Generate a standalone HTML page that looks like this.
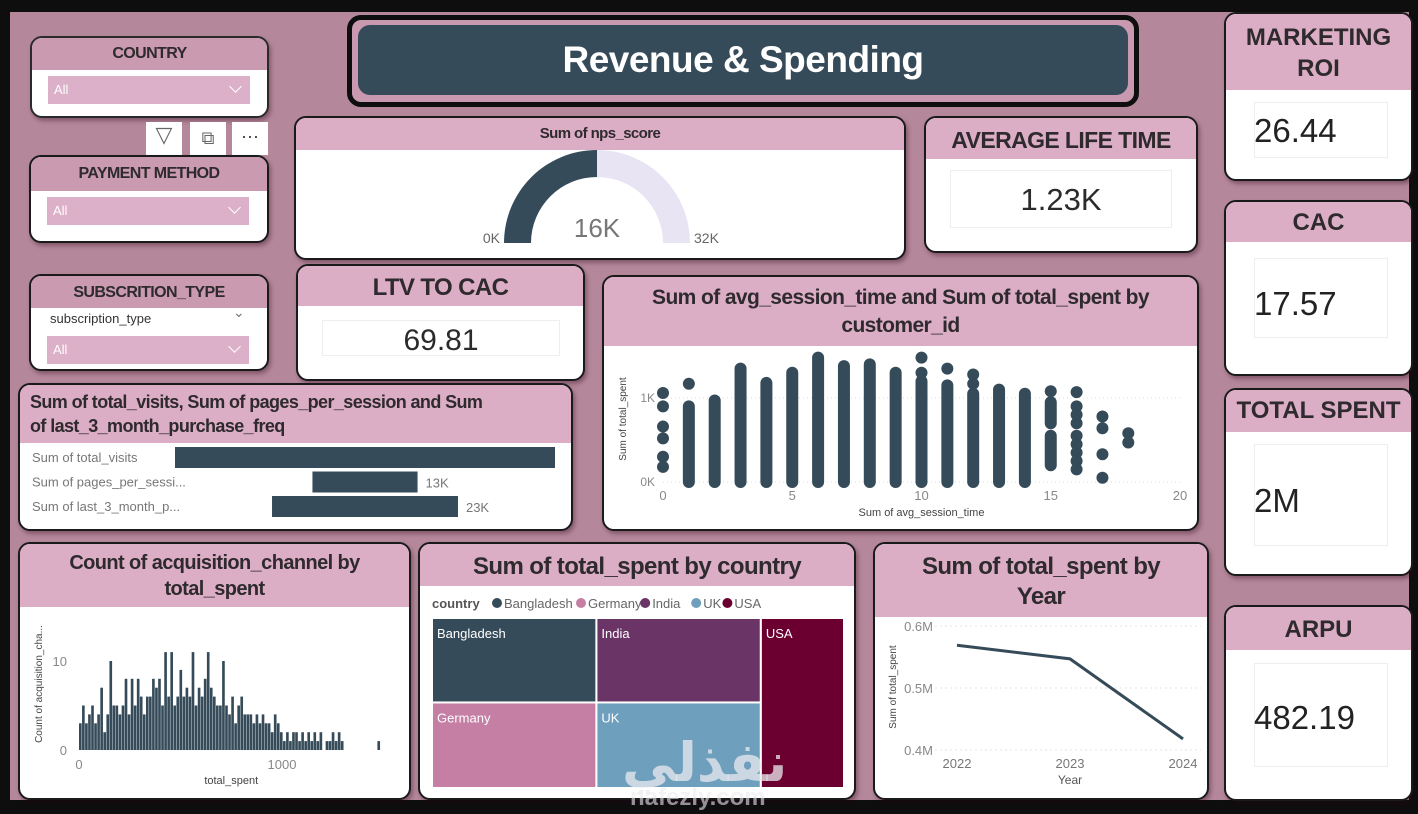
<!DOCTYPE html>
<html><head><meta charset="utf-8">
<style>
*{box-sizing:border-box;margin:0;padding:0}
body{width:1418px;height:814px;background:#0e0e0e;position:relative;overflow:hidden;font-family:"Liberation Sans",sans-serif;color:#2b2b2b}
.canvas{position:absolute;left:10px;top:12px;width:1399px;height:788px;background:#b5879b}
.card{position:absolute;background:#fff;border:2.5px solid #1a1a1a;border-radius:12px;overflow:hidden;box-shadow:2px 3px 4px rgba(40,0,20,.35)}
.hdr{position:absolute;left:0;right:0;top:0;background:#dcaec6;text-align:center;font-weight:bold;color:#2e2a2d;white-space:nowrap;letter-spacing:-0.6px}
.abs{position:absolute}
.dd{position:absolute;background:#dcb0c8;color:#fff;font-size:13px;padding:6px 0 0 6px}
.dd::after{content:"";position:absolute;right:10px;top:6px;width:8px;height:8px;border-right:1.5px solid #fff;border-bottom:1.5px solid #fff;transform:rotate(45deg)}
.kbox{position:absolute;border:1px solid #eee;background:#fff}
.rk .hdr{letter-spacing:0}
.rk .val{position:absolute;font-size:33px;color:#222}
svg text{font-family:"Liberation Sans",sans-serif}
</style></head><body>
<div class="canvas"></div>

<div class="card" style="left:30px;top:36px;width:239px;height:82px;border-color:#2a2a2a">
 <div class="hdr" style="height:32px;line-height:32px;font-size:16px;background:#c99ab0">COUNTRY</div>
 <div class="dd" style="left:16px;top:38px;width:202px;height:28px">All</div>
</div>
<div class="abs" style="left:146px;top:122px;width:36px;height:33px;background:#fff;font-size:22px;text-align:center;color:#666">▽</div>
<div class="abs" style="left:190px;top:122px;width:36px;height:33px;background:#fff;font-size:18px;text-align:center;line-height:33px;color:#666">⧉</div>
<div class="abs" style="left:232px;top:122px;width:36px;height:33px;background:#fff;font-size:18px;text-align:center;line-height:28px;color:#333">···</div>

<div class="card" style="left:29px;top:155px;width:240px;height:88px">
 <div class="hdr" style="height:34px;line-height:34px;font-size:16px;background:#c99ab0">PAYMENT METHOD</div>
 <div class="dd" style="left:16px;top:40px;width:202px;height:28px">All</div>
</div>
<div class="card" style="left:29px;top:274px;width:240px;height:97px">
 <div class="hdr" style="height:32px;line-height:34px;font-size:16px;background:#c99ab0">SUBSCRITION_TYPE</div>
 <div class="abs" style="left:19px;top:35px;font-size:13px;color:#333">subscription_type</div>
 <div class="abs" style="left:202px;top:28px;font-size:14px;color:#777">⌄</div>
 <div class="dd" style="left:16px;top:60px;width:202px;height:28px">All</div>
</div>

<div class="abs" style="left:347px;top:15px;width:792px;height:92px;border:5px solid #0e0e0e;border-radius:14px;background:#c999b0">
 <div class="abs" style="left:6px;top:5px;width:770px;height:70px;background:#364b59;border-radius:12px;color:#fff;font-weight:bold;font-size:37px;letter-spacing:-0.5px;text-align:center;line-height:70px">Revenue &amp; Spending</div>
</div>

<div class="card" style="left:294px;top:116px;width:612px;height:144px">
 <div class="hdr" style="height:32px;line-height:32px;font-size:15px">Sum of nps_score</div>
 <svg class="abs" style="left:0;top:0" width="612" height="144" id="gauge"></svg>
</div>

<div class="card" style="left:924px;top:116px;width:274px;height:137px">
 <div class="hdr" style="height:41px;line-height:44px;font-size:23px">AVERAGE LIFE TIME</div>
 <div class="kbox" style="left:24px;top:52px;width:222px;height:58px;text-align:center;font-size:31px;line-height:58px">1.23K</div>
</div>

<div class="card" style="left:296px;top:264px;width:289px;height:117px">
 <div class="hdr" style="height:40px;line-height:44px;font-size:24px">LTV TO CAC</div>
 <div class="kbox" style="left:24px;top:54px;width:238px;height:36px;text-align:center;font-size:30px;line-height:40px">69.81</div>
</div>

<div class="card" style="left:602px;top:275px;width:597px;height:256px">
 <div class="hdr" style="height:69px;line-height:28px;padding-top:7px;font-size:21px">Sum of avg_session_time and Sum of total_spent by<br>customer_id</div>
 <svg class="abs" style="left:0;top:0" width="597" height="256" id="scatter"></svg>
</div>

<div class="card" style="left:18px;top:383px;width:555px;height:148px">
 <div class="hdr" style="height:58px;text-align:left;padding:5px 0 0 10px;font-size:18px;line-height:24px">Sum of total_visits, Sum of pages_per_session and Sum<br>of last_3_month_purchase_freq</div>
 <svg class="abs" style="left:0;top:0" width="555" height="148" id="funnel"></svg>
</div>

<div class="card" style="left:18px;top:542px;width:393px;height:258px">
 <div class="hdr" style="height:63px;line-height:26px;padding-top:6px;font-size:20px">Count of acquisition_channel by<br>total_spent</div>
 <svg class="abs" style="left:0;top:0" width="393" height="258" id="hist"></svg>
</div>

<div class="card" style="left:418px;top:542px;width:438px;height:258px">
 <div class="hdr" style="height:42px;line-height:46px;font-size:24px">Sum of total_spent by country</div>
 <svg class="abs" style="left:0;top:0" width="438" height="258" id="tree"></svg>
</div>

<div class="card" style="left:873px;top:542px;width:336px;height:258px">
 <div class="hdr" style="height:73px;line-height:30px;padding-top:8px;font-size:24px">Sum of total_spent by<br>Year</div>
 <svg class="abs" style="left:0;top:0" width="336" height="258" id="line"></svg>
</div>

<div class="card rk" style="left:1224px;top:12px;width:189px;height:169px">
 <div class="hdr" style="height:76px;line-height:31px;padding-top:8px;font-size:24px">MARKETING<br>ROI</div>
 <div class="kbox" style="left:28px;top:88px;width:134px;height:56px"></div>
 <div class="val" style="left:28px;top:98px">26.44</div>
</div>
<div class="card rk" style="left:1224px;top:200px;width:189px;height:176px">
 <div class="hdr" style="height:40px;line-height:42px;font-size:24px">CAC</div>
 <div class="kbox" style="left:28px;top:56px;width:134px;height:80px"></div>
 <div class="val" style="left:28px;top:83px">17.57</div>
</div>
<div class="card rk" style="left:1224px;top:388px;width:189px;height:188px">
 <div class="hdr" style="height:42px;line-height:42px;font-size:24px">TOTAL SPENT</div>
 <div class="kbox" style="left:28px;top:54px;width:134px;height:102px"></div>
 <div class="val" style="left:28px;top:92px">2M</div>
</div>
<div class="card rk" style="left:1224px;top:605px;width:189px;height:196px">
 <div class="hdr" style="height:43px;line-height:46px;font-size:24px">ARPU</div>
 <div class="kbox" style="left:28px;top:56px;width:134px;height:104px"></div>
 <div class="val" style="left:28px;top:92px">482.19</div>
</div>

<div class="abs" style="left:622px;top:718px;font-family:'Noto Sans CJK SC','DejaVu Sans',sans-serif;font-size:54px;font-weight:bold;color:rgba(235,235,240,.75)">نفذلي</div>
<div class="abs" style="left:630px;top:784px;font-size:24px;font-weight:bold;color:rgba(235,235,240,.6)">nafezly.com</div>

<script>
const gaugeMin = 0;
const gaugeMax = 32;
const gaugeValue = 16;
const gaugeLabels = ["0K", "16K", "32K"];

const scatterColX = [1,2,3,4,5,6,7,8,9,10,11,12,13,14,15,15];
const scatterColMin = [0,0,0,0,0,0,0,0,0,0,0,0,0,0,0.2,0.7];
const scatterColMax = [0.9,0.97,1.35,1.18,1.3,1.48,1.38,1.4,1.3,1.2,1.15,1.05,1.1,1.05,0.55,0.95];
const scatterDotX = [0,0,0,0,0,0,1,10,10,11,12,12,15,16,16,16,16,16,16,16,16,16,17,17,17,17,18,18];
const scatterDotY = [1.06,0.9,0.66,0.52,0.3,0.18,1.17,1.3,1.48,1.35,1.17,1.28,1.08,1.07,0.9,0.8,0.7,0.55,0.45,0.35,0.25,0.15,0.78,0.64,0.33,0.05,0.58,0.47];
const scatterXTicks = [0,5,10,15,20];
const scatterYTicks = [0,1];

const funnelCats = ["Sum of total_visits","Sum of pages_per_sessi...","Sum of last_3_month_p..."];
const funnelVals = [47,13,23];
const funnelLabels = ["","13K","23K"];

const histBinWidth = 15;
const histCounts = [3,5,3,4,5,3, 4,7,2,4,10,5, 5,4,5,8,4,8, 5,8,6,4,6,6, 8,7,8,5,11,6, 11,5,6,9,6,7, 6,11,5,7,6,8, 11,7,6,5,5,10, 5,4,6,3,5,6, 4,4,4,3,4,3, 4,3,3,2,4,3, 2,1,2,1,2,2, 1,2,1,2,1,2, 1,2,0,1,1,2, 1,2,1,0,0,0, 0,0,0,0,0,0,0,0,1];
const histXTicks = [0,1000];
const histYTicks = [0,10];

const treeCountries = ["Bangladesh","Germany","India","UK","USA"];
const treeValues = [395,400,395,400,402];
const treeGroups = [[0,1],[2,3],[4]];
const treeColors = ["#364b59","#c57fa4","#6a3466","#6e9fbd","#6b0030"];

const lineYears = [2022,2023,2024];
const lineValues = [0.569,0.547,0.418];
const lineYTicks = [0.4,0.5,0.6];
const lineYTickLabels = ["0.4M","0.5M","0.6M"];

const NS = "http://www.w3.org/2000/svg";
function mk(svg, tag, attrs, txt){
  const e = document.createElementNS(NS, tag);
  for (const k in attrs) e.setAttribute(k, attrs[k]);
  if (txt !== undefined) e.textContent = txt;
  svg.appendChild(e); return e;
}

(function(){
  const s = document.getElementById('gauge');
  const cx = 301, cy = 125, R = 93, r = 66;
  const ang = v => Math.PI * (1 - (v - gaugeMin)/(gaugeMax - gaugeMin));
  function arc(a0, a1, col, name){
    const p = (a, rad) => [cx + rad*Math.cos(a), cy - rad*Math.sin(a)];
    const [x0,y0]=p(a0,R),[x1,y1]=p(a1,R),[x2,y2]=p(a1,r),[x3,y3]=p(a0,r);
    const e = mk(s,'path',{d:`M${x0},${y0} A${R},${R} 0 0 1 ${x1},${y1} L${x2},${y2} A${r},${r} 0 0 0 ${x3},${y3}Z`,fill:col});
    
    
  }
  arc(ang(gaugeMin), ang(gaugeValue), '#364b59', 'gauge-value-arc');
  arc(ang(gaugeValue), ang(gaugeMax), '#e8e4f4', 'gauge-remaining-arc');
  const t0 = mk(s,'text',{x:cx-R-4,y:cy,'text-anchor':'end','font-size':14,fill:'#666'},gaugeLabels[0]);
   
  const t1 = mk(s,'text',{x:cx,y:cy-6,'text-anchor':'middle','font-size':26,fill:'#777'},gaugeLabels[1]);
   
  const t2 = mk(s,'text',{x:cx+R+4,y:cy,'text-anchor':'start','font-size':14,fill:'#666'},gaugeLabels[2]);
   
})();

(function(){
  const s = document.getElementById('scatter');
  const X = v => 59 + v*(576-59)/20;
  const Y = v => 205 - v*84;
  scatterYTicks.forEach(t=>{
    mk(s,'line',{x1:X(0),x2:X(20),y1:Y(t),y2:Y(t),stroke:'#ddd','stroke-dasharray':'1 3'});
    const e = mk(s,'text',{x:X(0)-8,y:Y(t)+4,'text-anchor':'end','font-size':12,fill:'#888'},t+'K');
     
  });
  scatterXTicks.forEach(t=>{
    const e = mk(s,'text',{x:X(t),y:Y(0)+18,'text-anchor':'middle','font-size':13,fill:'#888'},t);
     
  });
  const xt = mk(s,'text',{x:X(10),y:239,'text-anchor':'middle','font-size':11,fill:'#444'},'Sum of avg_session_time');
   
  const yt = mk(s,'text',{x:0,y:0,'text-anchor':'middle','font-size':10,fill:'#444',transform:`translate(22,${Y(0.75)}) rotate(-90)`},'Sum of total_spent');
   
  scatterColX.forEach((x,i)=>{
    const y1 = Y(scatterColMax[i]), y0 = Y(scatterColMin[i]);
    const e = mk(s,'rect',{x:X(x)-6,y:y1-6,width:12,height:(y0-y1)+12,rx:6,fill:'#364b59'});
     
  });
  scatterDotX.forEach((x,i)=>{
    const e = mk(s,'circle',{cx:X(x),cy:Y(scatterDotY[i]),r:6,fill:'#364b59'});
     
  });
})();

(function(){
  const s = document.getElementById('funnel');
  const cx = 345, scale = 380/47;
  funnelCats.forEach((c,i)=>{
    const y = 62 + i*24.5;
    const w = funnelVals[i]*scale;
    const e = mk(s,'rect',{x:cx-w/2,y:y,width:w,height:21,fill:'#364b59'});
     
    const l = mk(s,'text',{x:12,y:y+15,'font-size':13,fill:'#777'},c);
     
    if (funnelLabels[i]) {
      const v = mk(s,'text',{x:cx+w/2+8,y:y+16,'font-size':13,fill:'#777'},funnelLabels[i]);
       
    }
  });
})();

(function(){
  const s = document.getElementById('hist');
  const X = v => 59 + v*0.203;
  const Y = v => 206 - v*8.9;
  histYTicks.forEach(t=>{
    const e = mk(s,'text',{x:47,y:Y(t)+5,'text-anchor':'end','font-size':13,fill:'#888'},t);
     
  });
  histXTicks.forEach(t=>{
    const e = mk(s,'text',{x:X(t),y:Y(0)+19,'text-anchor':'middle','font-size':13,fill:'#888'},t);
     
  });
  const xt = mk(s,'text',{x:X(750),y:240,'text-anchor':'middle','font-size':11,fill:'#444'},'total_spent');
   
  const yt = mk(s,'text',{x:0,y:0,'text-anchor':'middle','font-size':10,fill:'#444',transform:'translate(22,140) rotate(-90)'},'Count of acquisition_cha...');
   
  histCounts.forEach((c,i)=>{
    if (!c) return;
    const x0 = X(i*histBinWidth), w = X((i+1)*histBinWidth) - x0;
    const e = mk(s,'rect',{x:x0,y:Y(c),width:Math.max(w-0.4,1),height:Y(0)-Y(c),fill:'#364b59'});
     
  });
})();

(function(){
  const s = document.getElementById('tree');
  const lg = mk(s,'text',{x:12,y:64,'font-size':13,'font-weight':'bold',fill:'#555'},'country');
   
  let px = 72;
  treeCountries.forEach((c,i)=>{
    const d = mk(s,'circle',{cx:px+5,cy:59,r:5,fill:treeColors[i]});
     
    const t = mk(s,'text',{x:px+12,y:64,'font-size':13,fill:'#666'},c);
     
    px += 12 + c.length*6.6 + 6;
  });
  const X0 = 12, Y0 = 74, W = 412, H = 170;
  const total = treeValues.reduce((a,b)=>a+b,0);
  let x = X0;
  treeGroups.forEach(g=>{
    const gs = g.reduce((a,k)=>a+treeValues[k],0);
    const w = W*gs/total;
    let y = Y0;
    g.forEach(k=>{
      const h = H*treeValues[k]/gs;
      const r = mk(s,'rect',{x:x,y:y,width:w,height:h,fill:treeColors[k],stroke:'#fff','stroke-width':2});
      
      
      const t = mk(s,'text',{x:x+5,y:y+20,'font-size':13,fill:'#fff'},treeCountries[k]);
       
      y += h;
    });
    x += w;
  });
})();

(function(){
  const s = document.getElementById('line');
  const X = v => 82 + (v-2022)*113;
  const Y = v => 206 - (v-0.4)*620;
  lineYTicks.forEach((t,i)=>{
    mk(s,'line',{x1:60,x2:326,y1:Y(t),y2:Y(t),stroke:'#e4e4e4','stroke-dasharray':'2 3'});
    const e = mk(s,'text',{x:58,y:Y(t)+5,'text-anchor':'end','font-size':13,fill:'#888'},lineYTickLabels[i]);
     
  });
  lineYears.forEach(t=>{
    const e = mk(s,'text',{x:X(t),y:Y(0.4)+18,'text-anchor':'middle','font-size':13,fill:'#777'},t);
     
  });
  const xt = mk(s,'text',{x:X(2023),y:240,'text-anchor':'middle','font-size':12,fill:'#555'},'Year');
   
  const yt = mk(s,'text',{x:0,y:0,'text-anchor':'middle','font-size':10,fill:'#444',transform:'translate(21,143) rotate(-90)'},'Sum of total_spent');
   
  const pts = lineYears.map((y,i)=>X(y)+','+Y(lineValues[i])).join(' ');
  const p = mk(s,'polyline',{points:pts,fill:'none',stroke:'#364b59','stroke-width':3});
   
})();
</script>
</body></html>
